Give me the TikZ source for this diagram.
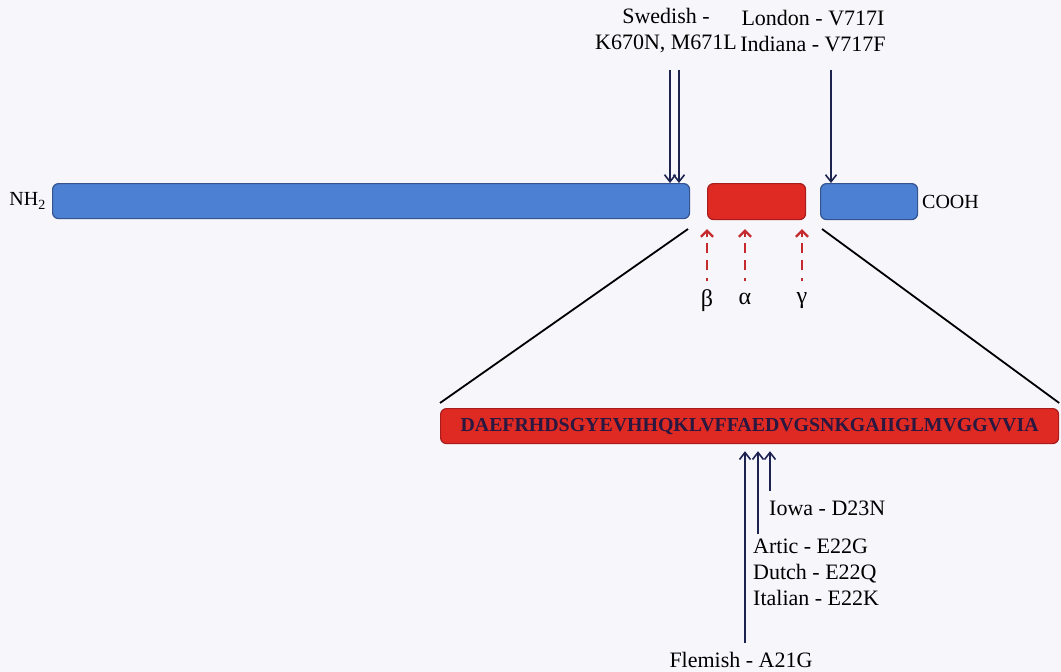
\documentclass[tikz,border=0pt]{standalone}
\usepackage{fontspec}
\setmainfont{Liberation Serif}
\usetikzlibrary{arrows.meta}
\definecolor{bg}{HTML}{F6F6FB}
\definecolor{barblue}{HTML}{4C80D2}
\definecolor{bluedge}{HTML}{34538F}
\definecolor{barred}{HTML}{DE2A22}
\definecolor{rededge}{HTML}{A81C1C}
\definecolor{navy}{HTML}{1C2350}
\definecolor{dashred}{HTML}{C42A2E}
\definecolor{seqtext}{HTML}{2A1840}
\begin{document}
\begin{tikzpicture}[x=1pt,y=-1pt,
  bluebar/.style={draw=bluedge, fill=barblue, line width=1.2pt, rounded corners=6pt,
    anchor=north west, inner sep=0pt, minimum height=35pt},
  redbar/.style={draw=rededge, fill=barred, line width=1.2pt, rounded corners=6pt,
    anchor=north west, inner sep=0pt, minimum height=36pt},
  lab/.style={font=\fontsize{22}{26}\selectfont, text=black, inner sep=0pt, align=center},
  endlab/.style={font=\fontsize{20}{24}\selectfont, text=black, inner sep=0pt},
  greek/.style={font=\fontsize{24}{26}\selectfont, text=black, inner sep=0pt},
  navyarrow/.style={draw=navy, line width=2pt, -{Straight Barb[length=7pt,width=11pt,line width=1.6pt]}},
  redshaft/.style={draw=dashred, line width=2.8pt, dash pattern=on 3pt off 8pt on 10pt off 7pt on 10pt off 20pt},
  redtip/.style={draw=dashred, line width=2.8pt, -{Straight Barb[length=6pt,width=12pt,line width=2.2pt]}},
  zoomline/.style={draw=black, line width=1.8pt}
]
\fill[bg] (0,0) rectangle (1061,672);
\useasboundingbox (0,0) rectangle (1061,672);

% protein bars
\node[bluebar, minimum width=637pt] (bar1) at (52,183) {};
\node[redbar, minimum width=98pt] (abeta) at (707,183) {};
\node[bluebar, minimum width=97pt, minimum height=36pt] (bar2) at (820,183) {};
\node[endlab, anchor=east] (nh2) at (46,201) {NH\textsubscript{2}};
\node[endlab, anchor=west] (cooh) at (922,202) {COOH};

% top labels and arrows
\node[lab] (swe) at (666,31) {Swedish -\\K670N, M671L};
\node[lab] (lon) at (813,31) {London - V717I\\Indiana - V717F};
\coordinate (s1) at (670,70);
\coordinate (s2) at (679,70);
\coordinate (l1) at (831,70);
\draw[navyarrow] (s1) -- (s1 |- bar1.north);
\draw[navyarrow] (s2) -- (s2 |- bar1.north);
\draw[navyarrow] (l1) -- (l1 |- bar2.north);

% secretase sites
\node[greek] (beta) at (707,301) {β};
\node[greek] (alpha) at (745,299) {α};
\node[greek] (gamma) at (802,301) {γ};
\coordinate (bt) at (707,281);
\coordinate (at) at (745,281);
\coordinate (gt) at (802,281);
\foreach \c in {bt,at,gt}{
  \draw[redshaft] (\c) -- ([yshift=-21pt]\c |- abeta.south);
  \draw[redtip] ([yshift=-17pt]\c |- abeta.south) -- ([yshift=-9pt]\c |- abeta.south);
}

% sequence bar
\node[redbar, minimum width=618pt, minimum height=35pt] (seq) at (440,408) {};
\node[text=seqtext, inner sep=0pt] (seqtxt) at (seq.center)
  {\resizebox{578pt}{!}{\fontsize{19}{20}\selectfont\bfseries DAEFRHDSGYEVHHQKLVFFAEDVGSNKGAIIGLMVGGVVIA}};

% zoom lines
\coordinate (z1) at (688,229);
\coordinate (z2) at (822,229);
\draw[zoomline] (z1) -- ([yshift=5pt]seq.north west);
\draw[zoomline] (z2) -- ([yshift=5pt]seq.north east);

% lower arrows and labels
\coordinate (f0) at (745,643);
\coordinate (a0) at (758,534);
\coordinate (i0) at (770,491);
\draw[navyarrow] (f0) -- ([yshift=-7pt]f0 |- seq.south);
\draw[navyarrow] (a0) -- ([yshift=-7pt]a0 |- seq.south);
\draw[navyarrow] (i0) -- ([yshift=-7pt]i0 |- seq.south);
\node[lab, anchor=west] (iowa) at (769,508) {Iowa - D23N};
\node[lab, anchor=north west, align=left] (artic) at (753,539) {Artic - E22G\\Dutch - E22Q\\Italian - E22K};
\node[lab] (flem) at (741,660) {Flemish - A21G};
\end{tikzpicture}
\end{document}
